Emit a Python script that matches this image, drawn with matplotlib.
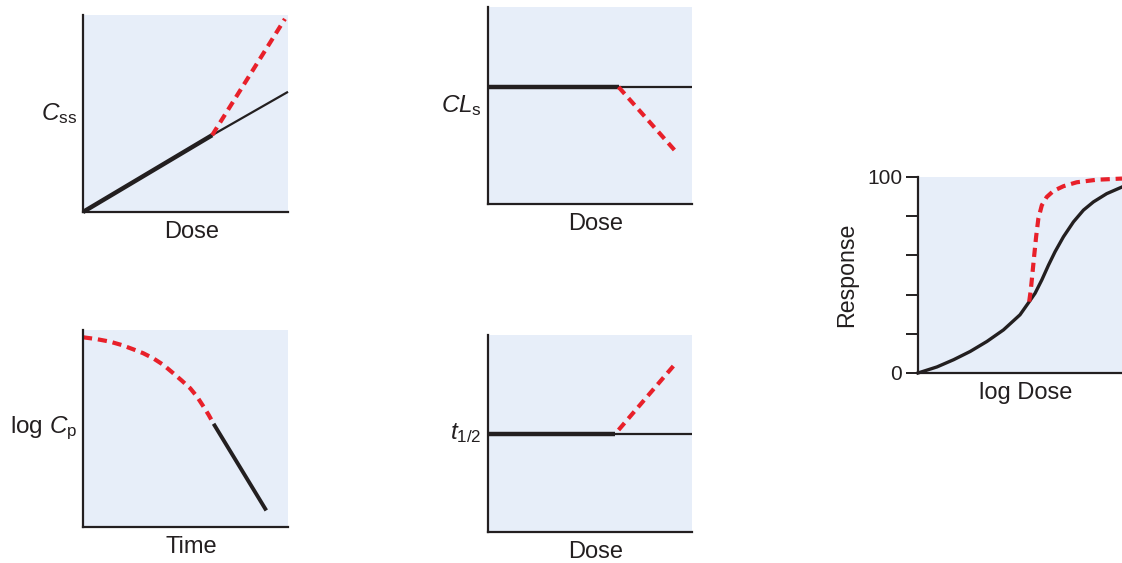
import matplotlib
matplotlib.use("Agg")
import matplotlib.pyplot as plt

plt.rcParams["font.family"] = ["Liberation Sans", "DejaVu Sans"]
plt.rcParams["mathtext.fontset"] = "custom"
plt.rcParams["mathtext.rm"] = "Liberation Sans"
plt.rcParams["mathtext.it"] = "Liberation Sans:italic"

# --- Data (normalised axis units) ---
# Css vs Dose
css_lin_x   = [0.0, 0.63]
css_lin_y   = [0.0, 0.39]
css_ext_x   = [0.63, 1.0]
css_ext_y   = [0.39, 0.61]
css_sat_x   = [0.63, 0.985]
css_sat_y   = [0.39, 0.98]

# CLs vs Dose
cl_lin_x    = [0.0, 0.64]
cl_lin_y    = [0.594, 0.594]
cl_ext_x    = [0.64, 1.0]
cl_ext_y    = [0.594, 0.594]
cl_sat_x    = [0.64, 0.926]
cl_sat_y    = [0.594, 0.26]

# log Cp vs Time
cp_sat_x    = [0.0, 0.065, 0.131, 0.188, 0.245, 0.294, 0.343, 0.392,
               0.441, 0.482, 0.523, 0.556, 0.588, 0.613, 0.637]
cp_sat_y    = [0.963, 0.954, 0.941, 0.924, 0.902, 0.882, 0.856, 0.823,
               0.780, 0.743, 0.704, 0.662, 0.611, 0.569, 0.524]
cp_lin_x    = [0.637, 0.894]
cp_lin_y    = [0.524, 0.084]

# t1/2 vs Dose
th_lin_x    = [0.0, 0.623]
th_lin_y    = [0.497, 0.497]
th_ext_x    = [0.623, 1.0]
th_ext_y    = [0.497, 0.497]
th_sat_x    = [0.64, 0.92]
th_sat_y    = [0.518, 0.856]

# Response vs log Dose
resp_x      = [0.0, 0.093, 0.175, 0.256, 0.338, 0.419, 0.50, 0.54, 0.574,
               0.607, 0.64, 0.672, 0.713, 0.762, 0.811, 0.86, 0.925, 1.0]
resp_y      = [0.0, 3.1, 6.8, 11.0, 16.1, 22.0, 29.7, 35.6, 40.7,
               47.5, 55.1, 61.9, 69.5, 77.1, 83.1, 87.3, 91.5, 94.9]
resp_sat_x  = [0.545, 0.553, 0.561, 0.569, 0.579, 0.59, 0.607, 0.631,
               0.664, 0.713, 0.778, 0.876, 1.0]
resp_sat_y  = [36.4, 42.4, 50.8, 59.3, 69.5, 78.8, 85.6, 89.8,
               92.9, 95.3, 97.3, 98.6, 99.2]
resp_ticks  = [0, 20, 40, 60, 80, 100]
resp_labels = ["0", "", "", "", "", "100"]

# --- Style ---
BG    = "#e7eef9"
INK   = "#231f20"
RED   = "#e8202a"
DASH  = (2.2, 1.4)
W, H  = 1122, 563


def rect(x0, y0, x1, y1):
    return [x0 / W, 1 - y1 / H, (x1 - x0) / W, (y1 - y0) / H]


fig = plt.figure(figsize=(W / 100, H / 100), dpi=100)


def panel(r, ylabel, xlabel, ylim=(0, 1)):
    ax = fig.add_axes(r)
    ax.set_facecolor(BG)
    ax.set_xlim(0, 1)
    ax.set_ylim(*ylim)
    for s in ("top", "right"):
        ax.spines[s].set_visible(False)
    for s in ("left", "bottom"):
        ax.spines[s].set_color(INK)
        ax.spines[s].set_linewidth(1.6)
    ax.set_xticks([])
    ax.set_yticks([])
    if ylabel:
        ax.text(-0.03, 0.5, ylabel, transform=ax.transAxes, ha="right",
                va="center", fontsize=17.5, color=INK)
    ax.text(0.53, -0.1, xlabel, transform=ax.transAxes, ha="center",
            va="center", fontsize=17, color=INK)
    return ax


def thick(ax, x, y, lw=3.2):
    ax.plot(x, y, color=INK, lw=lw, solid_capstyle="butt",
            solid_joinstyle="round", clip_on=False)


def thin(ax, x, y):
    ax.plot(x, y, color=INK, lw=1.6, solid_capstyle="butt", clip_on=False)


def red(ax, x, y):
    ax.plot(x, y, color=RED, lw=3.0, linestyle=(0, DASH),
            dash_capstyle="butt", dash_joinstyle="round", clip_on=False)


# --- Css ---
ax1 = panel(rect(83, 15, 288, 212), r"$\mathit{C}_{\mathrm{ss}}$", "Dose")
thin(ax1, css_ext_x, css_ext_y)
thick(ax1, css_lin_x, css_lin_y)
red(ax1, css_sat_x, css_sat_y)

# --- CLs ---
ax2 = panel(rect(488, 7, 692, 204), r"$\mathit{CL}_{\mathrm{s}}$", "Dose")
thin(ax2, cl_ext_x, cl_ext_y)
thick(ax2, cl_lin_x, cl_lin_y)
red(ax2, cl_sat_x, cl_sat_y)

# --- log Cp ---
ax3 = panel(rect(83, 330, 288, 527), r"log $\mathit{C}_{\mathrm{p}}$", "Time")
red(ax3, cp_sat_x, cp_sat_y)
thick(ax3, cp_lin_x, cp_lin_y, lw=2.8)

# --- t1/2 ---
ax4 = panel(rect(488, 335, 692, 532), r"$\mathit{t}_{1/2}$", "Dose")
thin(ax4, th_ext_x, th_ext_y)
thick(ax4, th_lin_x, th_lin_y)
red(ax4, th_sat_x, th_sat_y)

# --- Response ---
ax5 = panel(rect(918, 177, 1122, 373), None, "log Dose", ylim=(0, 100))
ax5.set_yticks(resp_ticks)
ax5.set_yticklabels(resp_labels)
ax5.tick_params(axis="y", length=8.5, width=1.4, color=INK, pad=3,
                labelsize=15, labelcolor=INK)
ax5.text(-0.348, 0.5, "Response", transform=ax5.transAxes, ha="center",
         va="center", rotation=90, fontsize=16.7, color=INK)
ax5.plot(resp_x, resp_y, color=INK, lw=2.4, solid_joinstyle="round",
         clip_on=False)
red(ax5, resp_sat_x, resp_sat_y)

fig.savefig("out.png", dpi=100)
